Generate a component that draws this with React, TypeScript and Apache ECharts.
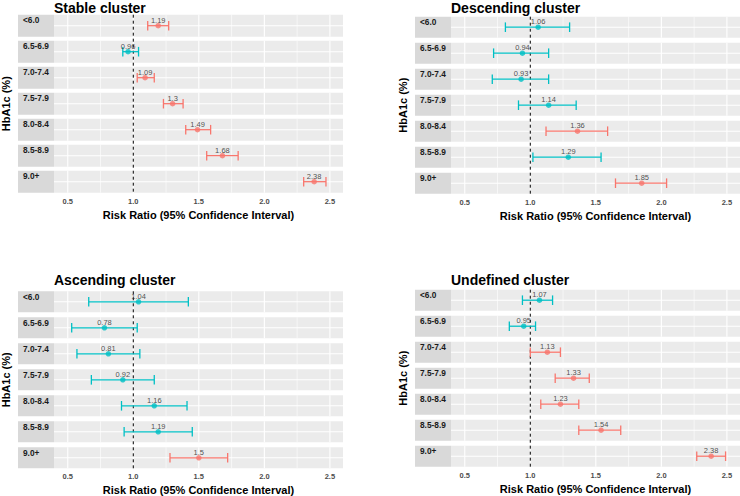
import React, { useEffect, useRef } from 'react';
import * as echarts from 'echarts';

// ---------------- data ----------------
const categories = ['<6.0', '6.5-6.9', '7.0-7.4', '7.5-7.9', '8.0-8.4', '8.5-8.9', '9.0+'];
const xTicks = [0.5, 1.0, 1.5, 2.0, 2.5];
const xMinorTicks = [0.75, 1.25, 1.75, 2.25];
const refLine = 1;

const stableRR = [1.19, 0.96, 1.09, 1.3, 1.49, 1.68, 2.38];
const stableLo = [1.11, 0.92, 1.03, 1.23, 1.4, 1.56, 2.3];
const stableHi = [1.27, 1.04, 1.16, 1.38, 1.59, 1.8, 2.47];
const stableSig = [1, 0, 1, 1, 1, 1, 1];

const descRR = [1.06, 0.94, 0.93, 1.14, 1.36, 1.29, 1.85];
const descLo = [0.81, 0.72, 0.71, 0.91, 1.12, 1.02, 1.65];
const descHi = [1.3, 1.14, 1.14, 1.35, 1.59, 1.54, 2.04];
const descSig = [0, 0, 0, 0, 1, 0, 1];

const ascRR = [1.04, 0.78, 0.81, 0.92, 1.16, 1.19, 1.5];
const ascLo = [0.66, 0.53, 0.57, 0.68, 0.91, 0.93, 1.28];
const ascHi = [1.42, 1.03, 1.05, 1.16, 1.41, 1.45, 1.72];
const ascSig = [0, 0, 0, 0, 0, 0, 1];

const undRR = [1.07, 0.95, 1.13, 1.33, 1.23, 1.54, 2.38];
const undLo = [0.94, 0.84, 1.0, 1.19, 1.08, 1.37, 2.27];
const undHi = [1.17, 1.04, 1.23, 1.45, 1.37, 1.69, 2.49];
const undSig = [0, 0, 1, 1, 1, 1, 1];

// ---------------- style ----------------
const RED = '#F8766D';
const TEAL = '#00BFC4';
const FONT = '"Liberation Sans", Arial, Helvetica, sans-serif';
const X_MIN = 0.395;
const X_MAX = 2.6;
const STRIP_W = 36;
const GRID_W = 289;

const panels = [
  { title: 'Stable cluster', rr: stableRR, lo: stableLo, hi: stableHi, sig: stableSig, left: 54, top: 14.7, rowH: 22, gap: 4, titleY: 7.5 },
  { title: 'Descending cluster', rr: descRR, lo: descLo, hi: descHi, sig: descSig, left: 451, top: 16.7, rowH: 21, gap: 5, titleY: 7.5 },
  { title: 'Ascending cluster', rr: ascRR, lo: ascLo, hi: ascHi, sig: ascSig, left: 54, top: 291.3, rowH: 21, gap: 5, titleY: 279.7 },
  { title: 'Undefined cluster', rr: undRR, lo: undLo, hi: undHi, sig: undSig, left: 451, top: 289.7, rowH: 21, gap: 5, titleY: 279.7 },
];

function buildOption() {
  const grid: any[] = [];
  const xAxis: any[] = [];
  const yAxis: any[] = [];
  const series: any[] = [];
  const graphic: any[] = [];

  panels.forEach((p, k) => {
    const P = p.rowH + p.gap;
    const half = p.rowH / 2 / P;
    grid.push({
      left: p.left,
      top: p.top,
      width: GRID_W,
      height: 6 * P + p.rowH,
      containLabel: false,
      outerBoundsMode: 'none',
    });
    xAxis.push({
      type: 'value',
      gridIndex: k,
      min: X_MIN,
      max: X_MAX,
      axisLine: { show: false },
      splitLine: { show: false },
      axisTick: { show: true, length: 3, customValues: xTicks, lineStyle: { color: '#333333', width: 1 } },
      axisLabel: {
        customValues: xTicks,
        formatter: (v: number) => v.toFixed(1),
        fontSize: 7.5,
        fontWeight: 'bold',
        color: '#4D4D4D',
        margin: 4.5,
        fontFamily: FONT,
      },
      name: 'Risk Ratio (95% Confidence Interval)',
      nameLocation: 'middle',
      nameGap: 16.5,
      nameTextStyle: { fontSize: 11, fontWeight: 'bold', color: '#000', fontFamily: FONT },
    });
    yAxis.push({
      type: 'value',
      gridIndex: k,
      min: -half,
      max: 6 + half,
      inverse: true,
      axisLine: { show: false },
      axisTick: { show: false },
      axisLabel: { show: false },
      splitLine: { show: false },
      name: 'HbA1c (%)',
      nameLocation: 'middle',
      nameRotate: 90,
      nameGap: 42.5,
      nameTextStyle: { fontSize: 11, fontWeight: 'bold', color: '#000', fontFamily: FONT },
    });

    // row backgrounds, strips, gridlines
    series.push({
      type: 'custom',
      xAxisIndex: k,
      yAxisIndex: k,
      silent: true,
      clip: false,
      z: 1,
      data: categories.map((_, i) => [X_MIN, i]),
      encode: { x: 0, y: 1 },
      renderItem: (params: any, api: any) => {
        const cs = params.coordSys;
        const i = api.value(1);
        const cy = api.coord([X_MIN, i])[1];
        const top = cy - p.rowH / 2;
        const children: any[] = [
          { type: 'rect', shape: { x: cs.x - STRIP_W, y: top, width: STRIP_W, height: p.rowH }, style: { fill: '#D9D9D9' } },
          {
            type: 'text',
            x: cs.x - STRIP_W + 5,
            y: top + 5.4,
            style: {
              text: categories[i],
              fill: '#1A1A1A',
              fontSize: 8.3,
              fontWeight: 'bold',
              fontFamily: FONT,
              align: 'left',
              verticalAlign: 'middle',
            },
          },
          { type: 'rect', shape: { x: cs.x, y: top, width: cs.width, height: p.rowH }, style: { fill: '#EBEBEB' } },
        ];
        xMinorTicks.forEach((v) => {
          const x = api.coord([v, i])[0];
          children.push({ type: 'line', shape: { x1: x, y1: top, x2: x, y2: top + p.rowH }, style: { stroke: '#FFFFFF', lineWidth: 0.6 } });
        });
        xTicks.forEach((v) => {
          const x = api.coord([v, i])[0];
          children.push({ type: 'line', shape: { x1: x, y1: top, x2: x, y2: top + p.rowH }, style: { stroke: '#FFFFFF', lineWidth: 1.1 } });
        });
        children.push({ type: 'line', shape: { x1: cs.x, y1: cy, x2: cs.x + cs.width, y2: cy }, style: { stroke: '#FFFFFF', lineWidth: 1.1 } });
        return { type: 'group', children };
      },
    });

    // reference line at 1
    series.push({
      type: 'custom',
      xAxisIndex: k,
      yAxisIndex: k,
      silent: true,
      clip: false,
      z: 2,
      data: [[refLine, 0]],
      encode: { x: 0, y: 1 },
      renderItem: (params: any, api: any) => {
        const cs = params.coordSys;
        const x = api.coord([api.value(0), 0])[0];
        return {
          type: 'line',
          shape: { x1: x, y1: cs.y, x2: x, y2: cs.y + cs.height },
          style: { stroke: '#000000', lineWidth: 1, lineDash: [3, 3] },
        };
      },
    });

    // error bars
    series.push({
      type: 'custom',
      xAxisIndex: k,
      yAxisIndex: k,
      silent: true,
      clip: false,
      z: 3,
      data: p.lo.map((l, i) => [l, p.hi[i], i]),
      encode: { x: [0, 1], y: 2 },
      renderItem: (params: any, api: any) => {
        const i = api.value(2);
        const a = api.coord([api.value(0), i]);
        const b = api.coord([api.value(1), i]);
        const color = p.sig[params.dataIndex] ? RED : TEAL;
        const st = { stroke: color, lineWidth: 1.3 };
        const c = 4.8;
        return {
          type: 'group',
          children: [
            { type: 'line', shape: { x1: a[0], y1: a[1], x2: b[0], y2: b[1] }, style: st },
            { type: 'line', shape: { x1: a[0], y1: a[1] - c, x2: a[0], y2: a[1] + c }, style: st },
            { type: 'line', shape: { x1: b[0], y1: b[1] - c, x2: b[0], y2: b[1] + c }, style: st },
          ],
        };
      },
    });

    // points + labels
    series.push({
      type: 'scatter',
      xAxisIndex: k,
      yAxisIndex: k,
      silent: true,
      z: 4,
      symbol: 'circle',
      symbolSize: 5.5,
      data: p.rr.map((v, i) => ({ value: [v, i], itemStyle: { color: p.sig[i] ? RED : TEAL } })),
      label: {
        show: true,
        position: 'inside',
        offset: [0, -5.5],
        formatter: (d: any) => String(d.value[0]),
        fontSize: 7.5,
        color: '#262626',
        fontFamily: FONT,
      },
    });

    graphic.push({
      type: 'text',
      x: p.left,
      y: p.titleY,
      style: {
        text: p.title,
        fill: '#000000',
        fontSize: 14,
        fontWeight: 'bold',
        fontFamily: FONT,
        align: 'left',
        verticalAlign: 'middle',
      },
    });
  });

  return {
    animation: false,
    backgroundColor: '#FFFFFF',
    textStyle: { fontFamily: FONT },
    grid,
    xAxis,
    yAxis,
    series,
    graphic,
  };
}

export default function App() {
  const ref = useRef<HTMLDivElement>(null);
  useEffect(() => {
    document.body.style.margin = '0';
    if (!ref.current) return;
    const chart = echarts.init(ref.current, undefined, { renderer: 'svg' });
    chart.setOption(buildOption() as any);
    return () => {
      chart.dispose();
    };
  }, []);
  return <div ref={ref} style={{ width: 740, height: 496 }} />;
}
